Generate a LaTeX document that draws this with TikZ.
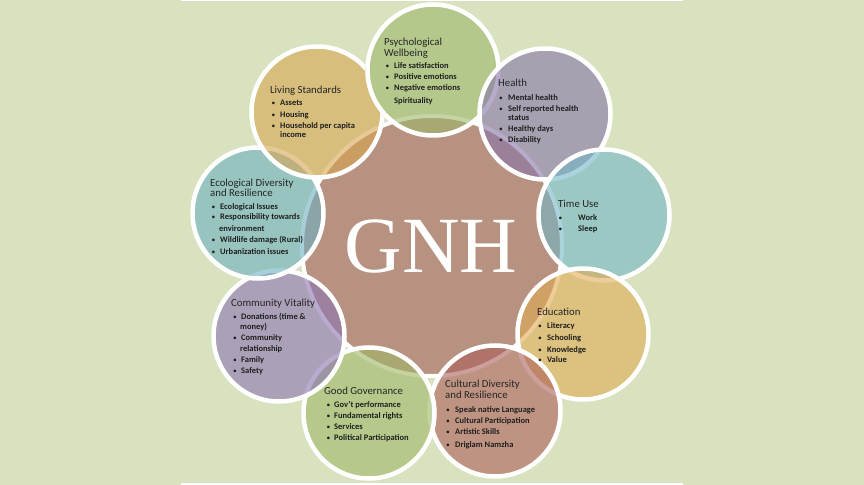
\documentclass[tikz,border=0pt]{standalone}
\usepackage{fontspec}
\setmainfont{Carlito}
\newfontfamily\gnhfont{Liberation Serif}

\definecolor{sage}{RGB}{217,226,191}
\definecolor{hub}{RGB}{184,146,128}
\definecolor{cpsych}{RGB}{157,184,106}
\definecolor{chealth}{RGB}{135,116,169}
\definecolor{ctime}{RGB}{115,183,199}
\definecolor{cedu}{RGB}{225,171,84}
\definecolor{ccult}{RGB}{172,95,90}
\definecolor{cgov}{RGB}{159,183,103}
\definecolor{ccomm}{RGB}{139,116,178}
\definecolor{ceco}{RGB}{109,176,193}
\definecolor{cliving}{RGB}{215,166,81}
\definecolor{titlegray}{RGB}{38,38,38}

% bullet line: name, bullet centre x, text x, baseline y, text
\newcommand\gnhitem[5]{%
  \node[dotmark] (#1-dot) at (#2,#4) {\textbullet};
  \node[itm] (#1) at (#3,#4) {#5};}

\begin{document}
\begin{tikzpicture}[x=1bp,y=-1bp,
  petal/.style={circle, draw=white, line width=4.5bp, minimum size=131bp,
    inner sep=0pt, fill=#1, fill opacity=0.6},
  ttl/.style={anchor=base west, inner sep=0pt, text=titlegray,
    font=\fontsize{10.8}{12}\selectfont},
  itm/.style={anchor=base west, inner sep=0pt, text=black!88,
    font=\bfseries\fontsize{8.5}{9}\selectfont},
  dotmark/.style={anchor=base, inner sep=0pt, text=black!88,
    font=\fontsize{7.5}{8}\selectfont},
  cont/.style={itm}]
\useasboundingbox (0,0) rectangle (864,485);
\fill[sage] (0,0) rectangle (864,485);
\fill[white] (181,0) rectangle (683,1.5);
\fill[white] (181,483.4) rectangle (683,485);

% central hub
\node[circle, draw=white, line width=4bp, fill=hub, minimum size=260bp,
  inner sep=0pt] (hub) at (432,246) {};

% surrounding domains, clockwise from the top
\node[petal=cpsych]  (psych)  at (433,70)  {};
\node[petal=chealth] (health) at (545,114) {};
\node[petal=ctime]   (time)   at (604,215) {};
\node[petal=cedu]    (edu)    at (583,334) {};
\node[petal=ccult]   (cult)   at (495,411) {};
\node[petal=cgov]    (gov)    at (369,413) {};
\node[petal=ccomm]   (comm)   at (279,336) {};
\node[petal=ceco]    (eco)    at (258,213) {};
\begin{scope}[even odd rule]
  \clip (0,0) rectangle (864,485) (433,70) circle[radius=68bp];
  \node[petal=cliving] (living) at (317,112) {};
\end{scope}

\node[text=white, inner sep=0pt, font=\gnhfont\fontsize{80}{80}\selectfont]
  (gnh) at (431,246.5) {GNH};

% Psychological Wellbeing
\node[ttl] (psych-t1) at (384,45.5) {Psychological};
\node[ttl] (psych-t2) at (384,56.5) {Wellbeing};
\gnhitem{psych-1}{387.5}{394}{69}{Life satisfaction}
\gnhitem{psych-2}{387.5}{394}{80}{Positive emotions}
\gnhitem{psych-3}{387.5}{394}{91}{Negative emotions}
\node[itm] (psych-4) at (394,104) {Spirituality};

% Health
\node[ttl] (health-t) at (498,86.5) {Health};
\gnhitem{health-1}{501}{508}{101}{Mental health}
\gnhitem{health-2}{501}{508}{112}{Self reported health}
\node[cont] (health-2b) at (508,121) {status};
\gnhitem{health-3}{501}{508}{132}{Healthy days}
\gnhitem{health-4}{501}{508}{143}{Disability}

% Time Use
\node[ttl] (time-t) at (558,207.5) {Time Use};
\gnhitem{time-1}{560.5}{578}{221}{Work}
\gnhitem{time-2}{560.5}{578}{232}{Sleep}

% Education
\node[ttl] (edu-t) at (537,315.5) {Education};
\gnhitem{edu-1}{540}{547}{329}{Literacy}
\gnhitem{edu-2}{540}{547}{341}{Schooling}
\gnhitem{edu-3}{540}{547}{352}{Knowledge}
\gnhitem{edu-4}{540}{547}{362}{Value}

% Cultural Diversity and Resilience
\node[ttl] (cult-t1) at (445,387.5) {Cultural Diversity};
\node[ttl] (cult-t2) at (445,398.5) {and Resilience};
\gnhitem{cult-1}{448}{455}{412}{Speak native Language}
\gnhitem{cult-2}{448}{455}{423}{Cultural Participation}
\gnhitem{cult-3}{448}{455}{434}{Artistic Skills}
\gnhitem{cult-4}{448}{455}{447}{Driglam Namzha}

% Good Governance
\node[ttl] (gov-t) at (324,394.5) {Good Governance};
\gnhitem{gov-1}{328.5}{334}{407}{Gov't performance}
\gnhitem{gov-2}{328.5}{334}{418}{Fundamental rights}
\gnhitem{gov-3}{328.5}{334}{429}{Services}
\gnhitem{gov-4}{328.5}{334}{440}{Political Participation}

% Community Vitality
\node[ttl] (comm-t) at (231,306.5) {Community Vitality};
\gnhitem{comm-1}{235}{241}{320}{Donations (time \&}
\node[cont] (comm-1b) at (240,330) {money)};
\gnhitem{comm-2}{235}{241}{341}{Community}
\node[cont] (comm-2b) at (240,351) {relationship};
\gnhitem{comm-3}{235}{241}{362}{Family}
\gnhitem{comm-4}{235}{241}{373}{Safety}

% Ecological Diversity and Resilience
\node[ttl] (eco-t1) at (210,186.5) {Ecological Diversity};
\node[ttl] (eco-t2) at (210,196.5) {and Resilience};
\gnhitem{eco-1}{213.5}{220}{210}{Ecological Issues}
\gnhitem{eco-2}{213.5}{220}{220}{Responsibility towards}
\node[cont] (eco-2b) at (219,232) {environment};
\gnhitem{eco-3}{213.5}{220}{243}{Wildlife damage (Rural)}
\gnhitem{eco-4}{213.5}{220}{255}{Urbanization issues}

% Living Standards
\node[ttl] (living-t) at (270,93.5) {Living Standards};
\gnhitem{living-1}{273.5}{280}{106}{Assets}
\gnhitem{living-2}{273.5}{280}{118}{Housing}
\gnhitem{living-3}{273.5}{280}{129}{Household per capita}
\node[cont] (living-3b) at (280,138) {income};
\end{tikzpicture}
\end{document}
